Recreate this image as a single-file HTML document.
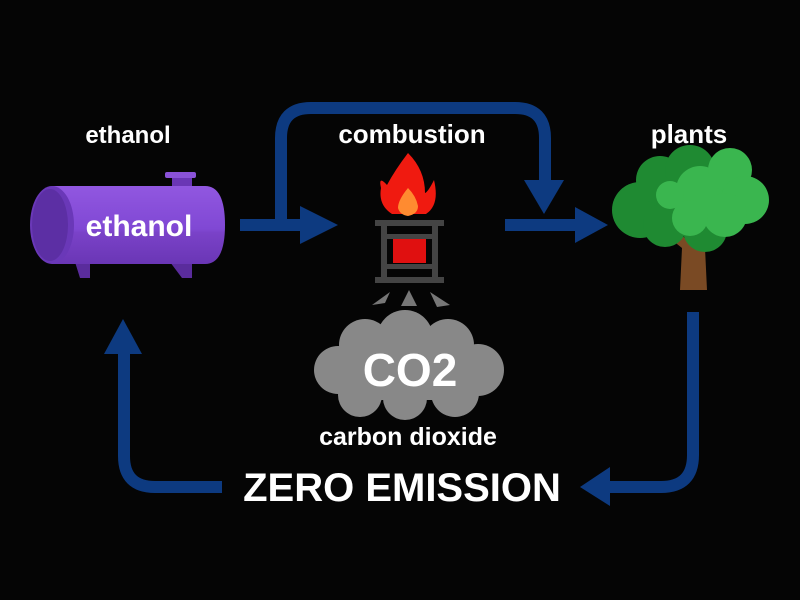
<!DOCTYPE html>
<html><head><style>
html,body{margin:0;padding:0;background:#000;}
svg{display:block;}
text{font-family:"Liberation Sans",sans-serif;font-weight:bold;fill:#fff;text-anchor:middle;}
</style></head><body>
<svg width="800" height="600" viewBox="0 0 800 600">
<rect width="800" height="600" fill="#050505"/>
<defs>
<linearGradient id="tank" x1="0" y1="0" x2="0" y2="1">
<stop offset="0" stop-color="#9157e0"/><stop offset="0.55" stop-color="#8048d4"/><stop offset="0.6" stop-color="#7a42c8"/><stop offset="1" stop-color="#6a36b5"/>
</linearGradient>
</defs>
<g fill="none" stroke="#0d3a80" stroke-width="12" stroke-linejoin="round">
<path d="M281 224 V138 Q281 108 311 108 H515 Q545 108 545 138 V182"/>
<path d="M240 225 H305"/>
<path d="M505 225 H578"/>
<path d="M693 312 V455 Q693 487 661 487 H605"/>
<path d="M222 487 H155 Q124 487 124 456 V350"/>
</g>
<g fill="#0d3a80">
<polygon points="524,180 564,180 544,214"/>
<polygon points="300,206 300,244 338,225"/>
<polygon points="575,207 575,243 608,225"/>
<polygon points="610,467 610,506 580,487"/>
<polygon points="104,354 142,354 123,319"/>
</g>
<text x="128" y="143" font-size="24">ethanol</text>
<text x="412" y="143" font-size="26">combustion</text>
<text x="689" y="143" font-size="26">plants</text>
<!-- tank -->
<polygon points="75,262 90,262 90,278 80,278" fill="#5a2c9c"/>
<polygon points="170,262 192,262 192,278 182,278" fill="#5a2c9c"/>
<rect x="172" y="178" width="20" height="10" fill="#6a36b5"/>
<rect x="165" y="172" width="31" height="6" rx="2" fill="#8a52d8"/>
<path d="M52 186 H205 Q225 186 225 225 Q225 264 205 264 H52 Z" fill="url(#tank)"/>
<ellipse cx="52" cy="225" rx="22" ry="39" fill="#6a38b8"/>
<ellipse cx="50" cy="225" rx="18" ry="36" fill="#5c2fa4"/>
<text x="139" y="236" font-size="30">ethanol</text>
<!-- flame -->
<path d="M408 153 Q395 170 387 185 Q378 175 381 188 Q378 205 392 214 H426 Q440 205 434 180 Q428 192 425 193 Q425 170 408 153 Z" fill="#f01a10"/>
<path d="M408 188 Q398 200 398 208 Q400 215 408 216 Q418 214 418 206 Q416 196 408 188 Z" fill="#ff8b30"/>
<!-- stand -->
<g fill="#444">
<rect x="375" y="220" width="69" height="6"/>
<rect x="375" y="277" width="69" height="6"/>
<rect x="381" y="220" width="6" height="63"/>
<rect x="432" y="220" width="6" height="63"/>
<rect x="381" y="234" width="57" height="5"/>
<rect x="381" y="264" width="57" height="5"/>
</g>
<rect x="393" y="239" width="33" height="24" fill="#e01010"/>
<g fill="#777">
<polygon points="390,292 385,303 372,305"/>
<polygon points="409,290 401,306 417,306"/>
<polygon points="430,292 450,305 437,307"/>
</g>
<!-- cloud -->
<g fill="#888">
<circle cx="365" cy="345" r="26"/><circle cx="405" cy="338" r="28"/><circle cx="448" cy="345" r="26"/>
<circle cx="338" cy="370" r="24"/><circle cx="478" cy="370" r="26"/>
<circle cx="360" cy="395" r="22"/><circle cx="405" cy="398" r="22"/><circle cx="455" cy="393" r="24"/>
<rect x="340" y="345" width="135" height="55"/>
</g>
<text x="410" y="386" font-size="46">CO2</text>
<text x="408" y="445" font-size="25">carbon dioxide</text>
<text x="402" y="501" font-size="40">ZERO EMISSION</text>
<!-- tree -->
<path d="M680 290 L682 248 L662 232 L668 226 L685 238 L690 225 L700 225 L702 238 L718 226 L722 232 L705 248 L707 290 Z" fill="#7a4a24"/>
<g fill="#1f8a32">
<circle cx="640" cy="210" r="28"/><circle cx="660" cy="180" r="24"/><circle cx="690" cy="170" r="25"/>
<circle cx="705" cy="230" r="22"/><circle cx="665" cy="225" r="22"/>
</g>
<g fill="#3ab64f">
<circle cx="700" cy="190" r="24"/><circle cx="730" cy="170" r="22"/><circle cx="745" cy="200" r="24"/>
<circle cx="725" cy="215" r="22"/><circle cx="690" cy="218" r="18"/><circle cx="670" cy="195" r="14"/>
</g>
</svg>
</body></html>
